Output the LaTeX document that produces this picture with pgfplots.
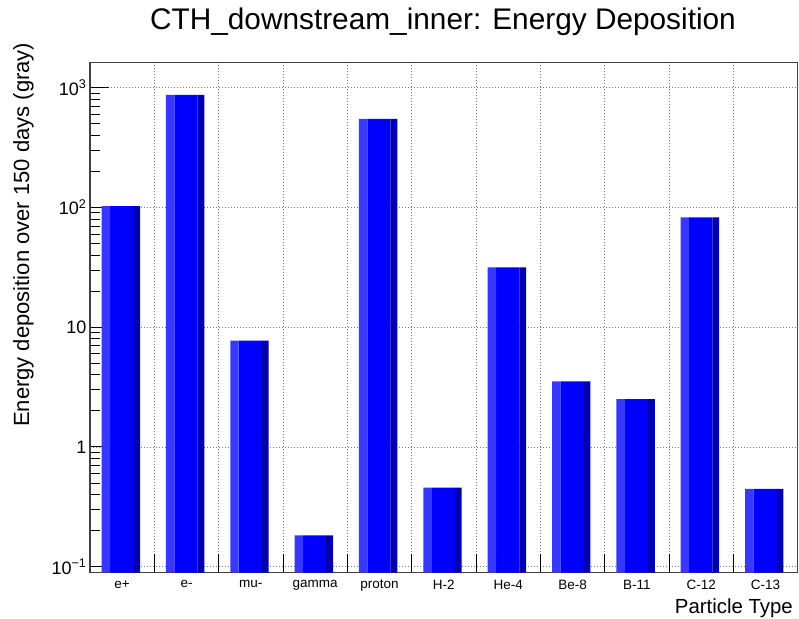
\documentclass[border=0pt]{standalone}
\usepackage{pgfplots}
\pgfplotsset{compat=1.18}
\usepackage{fontspec}
\setmainfont{Liberation Sans}
\definecolor{barmid}{RGB}{0,0,255}
\definecolor{barlight}{RGB}{55,55,255}
\definecolor{bardark}{RGB}{0,0,172}
\definecolor{gridgray}{RGB}{120,120,120}
\pgfplotstableread{
x y
0 102.5
1 869
2 7.74
3 0.183
4 548
5 0.458
6 31.6
7 3.53
8 2.51
9 82.5
10 0.447
}\datatable
\begin{document}
\begin{tikzpicture}[x=1pt,y=1pt]
\path[use as bounding box] (0,0) rectangle (799,618);
\begin{axis}[
  at={(90pt,45.3pt)}, anchor=south west,
  scale only axis, width=707.7pt, height=510pt,
  xmin=-0.5, xmax=10.5,
  ymode=log, ymin=0.0891, ymax=1616,
  log origin=infty,
  axis line style={draw=black!75, line width=1.1pt},
  xtick={0.5,1.5,...,9.5},
  xticklabels={},
  extra x ticks={0,1,...,10},
  extra x tick labels={e+,e-,mu-,gamma,proton,H-2,He-4,Be-8,B-11,C-12,C-13},
  extra x tick style={major tick length=0pt, grid=none, tick label style={font=\fontsize{13.5}{14}\selectfont, yshift=-4pt}},
  xtick pos=bottom, ytick pos=left,
  tick align=inside,
  xmajorgrids, ymajorgrids,
  grid style={draw=gridgray, line width=0.8pt, dash pattern=on 0.8pt off 2.2pt},
  major tick length=19pt,
  ytick={0.1,1,10,100,1000},
  yticklabels={10\textsuperscript{−1},1,10,10\textsuperscript{2},10\textsuperscript{3}},
  y tick label style={font=\fontsize{18}{20}\selectfont},
  minor tick length=10pt,
  every tick/.style={black, line width=0.9pt},
  yminorticks=true,
  xlabel={}, ylabel={},
]
\addplot[ybar, bar width=0.365, bar shift=-0.008, fill=barmid, draw=none] table[x=x,y=y]{\datatable};
\addplot[ybar, bar width=0.131, bar shift=-0.2535, fill=barlight, draw=none] table[x=x,y=y]{\datatable};
\addplot[ybar, bar width=0.106, bar shift=0.225, fill=bardark, draw=none] table[x=x,y=y]{\datatable};
\end{axis}
\node[anchor=base, font=\fontsize{29.8}{32}\selectfont, inner sep=0pt] at (443,588) {CTH\_downstream\_inner: Energy Deposition};
\node[anchor=base east, font=\fontsize{20.4}{22}\selectfont, inner sep=0pt] at (793,5) {Particle Type};
\node[rotate=90, anchor=base west, font=\fontsize{22}{23}\selectfont, inner sep=0pt] at (29,191) {Energy deposition over 150 days (gray)};
\end{tikzpicture}
\end{document}
